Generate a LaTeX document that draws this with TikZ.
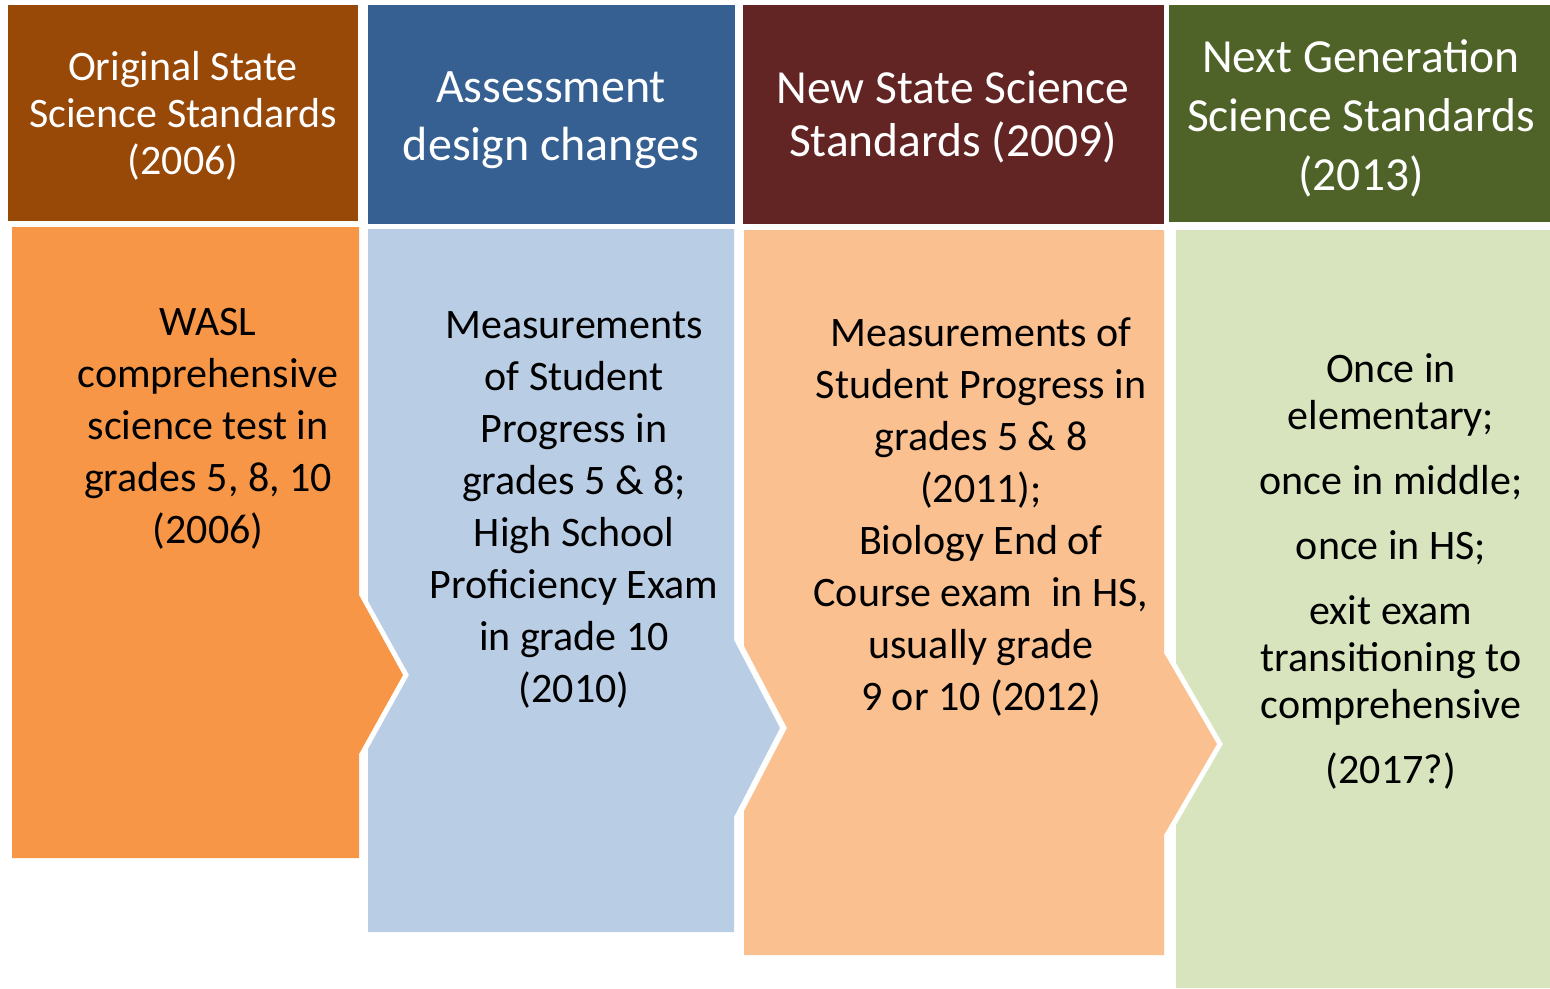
\documentclass[tikz,border=0pt]{standalone}
\usepackage{fontspec}
\setmainfont{Carlito}
\definecolor{hA}{HTML}{984807}
\definecolor{hB}{HTML}{366092}
\definecolor{hC}{HTML}{632523}
\definecolor{hD}{HTML}{4F6228}
\definecolor{bA}{HTML}{F79646}
\definecolor{bB}{HTML}{B9CDE5}
\definecolor{bC}{HTML}{FAC090}
\definecolor{bD}{HTML}{D7E4BD}
\tikzset{
  headtext/.style={text=white, align=center, inner sep=0pt},
  bodytext/.style={text=black, align=center, inner sep=0pt, font=\fontsize{42}{52}\selectfont},
}
\begin{document}
\begin{tikzpicture}[x=1pt,y=-1pt]
\useasboundingbox (0,0) rectangle (1550,988);
% headers
\fill[hA] (8,5) rectangle (358,221);
\fill[hB] (368,5) rectangle (735,224);
\fill[hC] (743,5) rectangle (1164,224);
\fill[hD] (1169,5) rectangle (1550,222);
% bodies
\fill[bA] (12,227) -- (359,227) -- (359,595) -- (403,675) -- (359,754) -- (359,858) -- (12,858) -- cycle;
\fill[bB] (368,229) -- (734,229) -- (734,640) -- (780,728) -- (734,817) -- (734,932) -- (368,932) -- (368,749) -- (409,675) -- (368,601) -- cycle;
\fill[bC] (744,230) -- (1164,230) -- (1164,653) -- (1217,744) -- (1164,835) -- (1164,955) -- (744,955) -- (744,811) -- (787,728) -- (744,646) -- cycle;
\fill[bD] (1176,230) -- (1550,230) -- (1550,988) -- (1176,988) -- (1176,825) -- (1223,744) -- (1176,663) -- cycle;
% header texts
\node[headtext, font=\fontsize{42}{47}\selectfont] (h1) at (183,116) {Original State\\Science Standards\\(2006)};
\node[headtext, font=\fontsize{48}{58}\selectfont] (h2) at (551,120) {Assessment\\design changes};
\node[headtext, font=\fontsize{47.5}{53}\selectfont] (h3) at (953,117) {New State Science\\Standards (2009)};
\node[headtext, font=\fontsize{47.5}{59}\selectfont] (h4) at (1361,118) {Next Generation\\Science Standards\\(2013)};
% body texts
\node[bodytext] (t1) at (208,429) {WASL\\comprehensive\\science test in\\grades 5, 8, 10\\(2006)};
\node[bodytext] (t2) at (574,510) {Measurements\\of Student\\Progress in\\grades 5 \& 8;\\High School\\Proficiency Exam\\in grade 10\\(2010)};
\node[bodytext] (t3) at (981,517) {Measurements of\\Student Progress in\\grades 5 \& 8\\(2011);\\Biology End of\\Course exam\ \ in HS,\\usually grade\\9 or 10 (2012)};
\node[bodytext, font=\fontsize{42}{47}\selectfont] (t4) at (1391,571) {Once in\\elementary;\\[18pt]once in middle;\\[18pt]once in HS;\\[18pt]exit exam\\transitioning to\\comprehensive\\[18pt](2017?)};
\end{tikzpicture}
\end{document}
